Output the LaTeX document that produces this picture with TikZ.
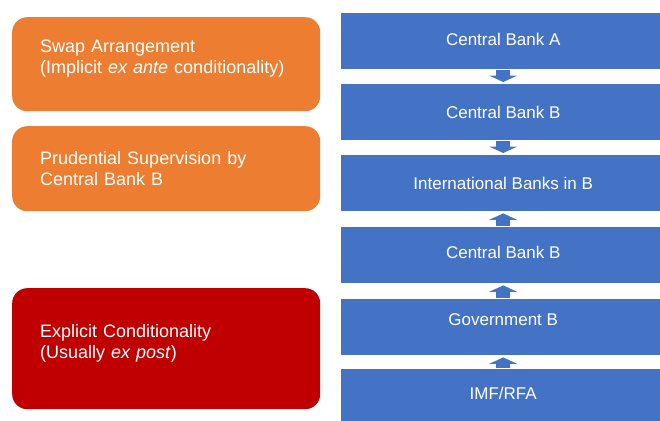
\documentclass[tikz,border=0pt]{standalone}
\usepackage{fontspec}
\setmainfont{Liberation Sans}
\usetikzlibrary{arrows.meta}
\definecolor{chainblue}{HTML}{4472C4}
\definecolor{condorange}{HTML}{ED7D31}
\definecolor{condred}{HTML}{C00000}
\begin{document}
\begin{tikzpicture}[x=1pt,y=-1pt]
    \tikzstyle{level}=[fill=chainblue,text=white,anchor=north west,inner sep=0pt,
        minimum width=324pt,minimum height=56pt,font=\fontsize{17}{20}\selectfont]
    \tikzstyle{cond}=[rounded corners=15pt,text=white,anchor=north west,align=left,
        inner xsep=28pt,inner ysep=0pt,text width=252pt,minimum width=308pt,
        font=\fontsize{18}{21}\selectfont]
    \tikzstyle{flow}=[draw=chainblue,line width=14pt,
        -{Triangle[width=28pt,length=6.5pt]},shorten <=1pt,shorten >=2pt]

    \useasboundingbox[fill=white] (0,0) rectangle (660,420);

    \node[cond,fill=condorange,minimum height=94pt,text depth=35pt] at (12,17) (swap)
        {Swap Arrangement\\(Implicit \textit{ex ante} conditionality)};
    \node[cond,fill=condorange,minimum height=85pt] at (12,126) (prud)
        {Prudential Supervision by\\Central Bank B};
    \node[cond,fill=condred,minimum height=121pt,text depth=35pt] at (12,288) (expl)
        {Explicit Conditionality\\(Usually \textit{ex post})};

    \node[level,text depth=4pt] at (341,13) (cba) {Central Bank A};
    \node[level] at (341,84) (cbb) {Central Bank B};
    \node[level] at (341,155) (intl) {International Banks in B};
    \node[level,text depth=6pt] at (341,227) (cbb2) {Central Bank B};
    \node[level,text depth=15pt] at (341,299) (gov) {Government B};
    \node[level,text depth=8pt] at (341,369) (imf) {IMF/RFA};

    \draw[flow] (cba) -- (cbb);
    \draw[flow] (cbb) -- (intl);

    \draw[flow] (cbb2) -- (intl);
    \draw[flow] (gov) -- (cbb2);
    \draw[flow] (imf) -- (gov);
\end{tikzpicture}
\end{document}
